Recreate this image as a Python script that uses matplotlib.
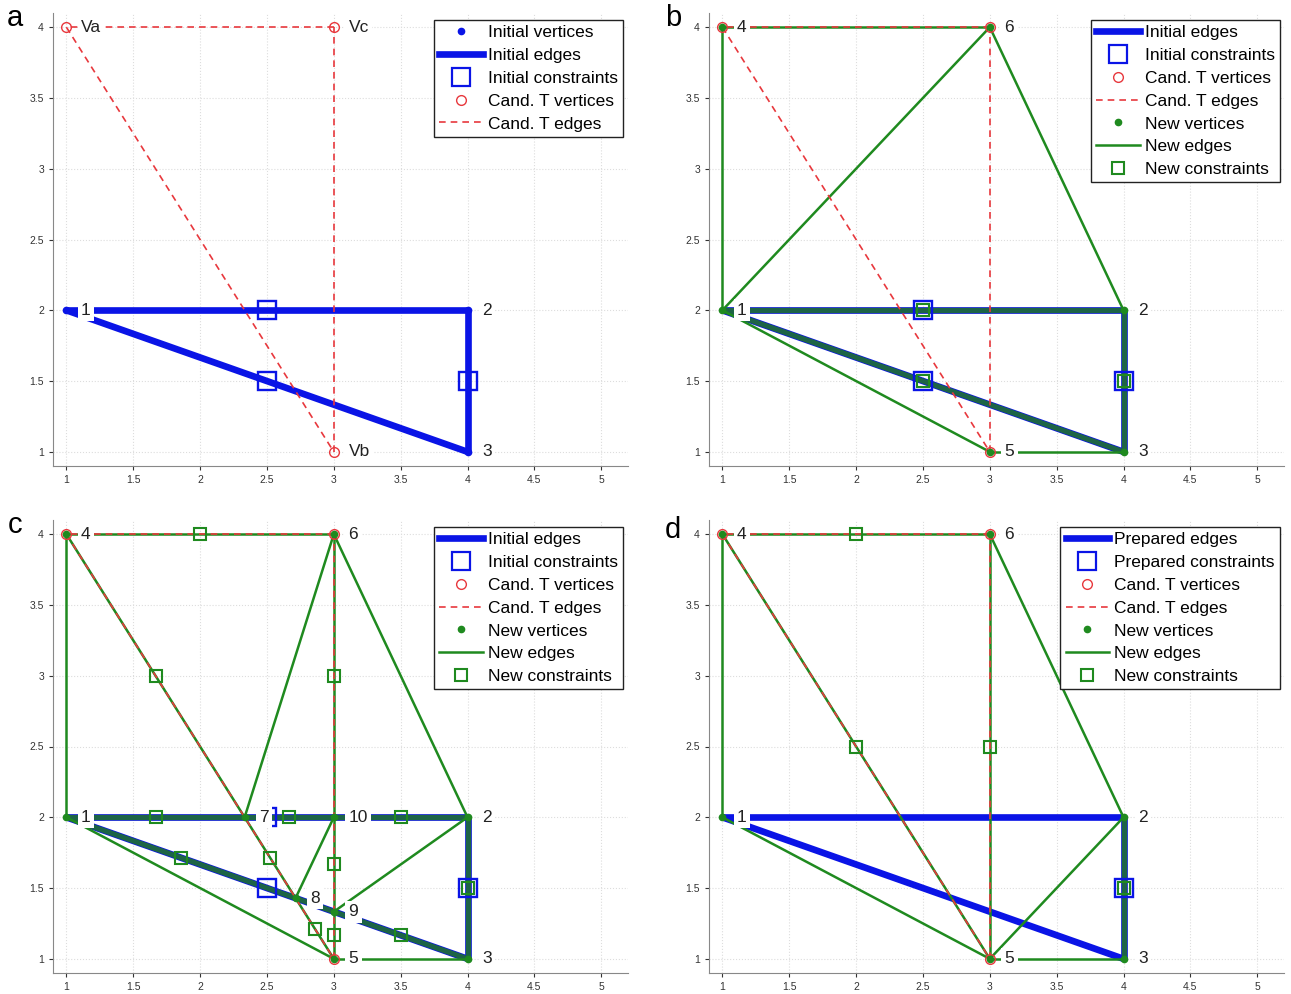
import matplotlib

matplotlib.use("Agg")
import matplotlib.pyplot as plt
from matplotlib.lines import Line2D

plt.rcParams["font.family"] = ["Liberation Sans", "DejaVu Sans"]

# ---- data -------------------------------------------------------------
# initial triangle (vertices 1, 2, 3)
init_vx = [1, 4, 4]
init_vy = [2, 2, 1]
init_edges = [(0, 1), (1, 2), (2, 0)]
init_cx = [2.5, 2.5, 4]
init_cy = [2, 1.5, 1.5]

# candidate triangle T (Va, Vb, Vc)
cand_vx = [1, 3, 3]
cand_vy = [4, 1, 4]
cand_names = ["Va", "Vb", "Vc"]
cand_edges = [(0, 1), (1, 2), (2, 0)]

# panel b
b_vx = [1, 4, 4, 1, 3, 3]
b_vy = [2, 2, 1, 4, 1, 4]
b_edges = [(0, 3), (3, 5), (5, 0), (5, 1), (0, 1), (1, 2), (2, 0), (0, 4), (4, 2)]
b_cx = [2.5, 2.5, 4]
b_cy = [2, 1.5, 1.5]

# panel c
c_vx = [1, 4, 4, 1, 3, 3, 2.333, 2.714, 3, 3]
c_vy = [2, 2, 1, 4, 1, 4, 2, 1.429, 1.333, 2]
c_edges = [(0, 6), (6, 9), (9, 1), (1, 2), (0, 7), (7, 8), (8, 2),
           (3, 0), (3, 5), (3, 6), (6, 7), (7, 4), (5, 9), (9, 8), (8, 4),
           (5, 6), (5, 1), (0, 4), (4, 2), (1, 8), (7, 9)]
c_cx = [2, 1.667, 3, 1.667, 2.667, 3.5, 1.857, 2.524, 2.857, 3, 3, 3.5, 4]
c_cy = [4, 3, 3, 2, 2, 2, 1.714, 1.714, 1.214, 1.667, 1.167, 1.167, 1.5]

# panel d
d_vx = [1, 4, 4, 1, 3, 3]
d_vy = [2, 2, 1, 4, 1, 4]
d_edges = [(3, 0), (3, 5), (3, 4), (5, 4), (5, 1), (0, 4), (4, 2), (4, 1), (1, 2)]
d_cx = [2, 2, 3, 4]
d_cy = [4, 2.5, 2.5, 1.5]
prep_cx = [4]
prep_cy = [1.5]

BLUE = "#0a14e6"
GREEN = "#1f8a1f"
TEAL = "#1d6446"
RED = "#e8383d"

W, H = 1291, 994
fig = plt.figure(figsize=(W / 100, H / 100), dpi=100)


def make_ax(left_px, top_px):
    ax = fig.add_axes([left_px / W, 1 - (top_px + 453) / H, 575 / W, 453 / H])
    ax.set_xlim(0.9, 5.2)
    ax.set_ylim(0.9, 4.1)
    ax.set_xticks([1, 1.5, 2, 2.5, 3, 3.5, 4, 4.5, 5])
    ax.set_yticks([1, 1.5, 2, 2.5, 3, 3.5, 4])
    ax.set_xticklabels(["1", "1.5", "2", "2.5", "3", "3.5", "4", "4.5", "5"])
    ax.set_yticklabels(["1", "1.5", "2", "2.5", "3", "3.5", "4"])
    ax.tick_params(labelsize=7.5, colors="#333333", length=3, width=0.8)
    ax.grid(True, color="#dddddd", linestyle=":", linewidth=0.8)
    ax.set_axisbelow(True)
    for s in ["top", "right"]:
        ax.spines[s].set_visible(False)
    for s in ["left", "bottom"]:
        ax.spines[s].set_color("#888888")
    return ax


def on_segment(p, q, a, b, tol=0.01):
    # both p and q lie on segment a-b
    def inside(r):
        cross = (b[0] - a[0]) * (r[1] - a[1]) - (b[1] - a[1]) * (r[0] - a[0])
        if abs(cross) > tol * 3:
            return False
        return (min(a[0], b[0]) - tol <= r[0] <= max(a[0], b[0]) + tol and
                min(a[1], b[1]) - tol <= r[1] <= max(a[1], b[1]) + tol)
    return inside(p) and inside(q)


def draw_blue_edges(ax):
    for i, j in init_edges:
        ax.plot([init_vx[i], init_vx[j]], [init_vy[i], init_vy[j]],
                color=BLUE, lw=4.8, solid_capstyle="butt", zorder=2)


def draw_cand(ax):
    for i, j in cand_edges:
        ax.plot([cand_vx[i], cand_vx[j]], [cand_vy[i], cand_vy[j]],
                color=RED, lw=1.2, ls=(0, (4, 3)), zorder=4)
    ax.plot(cand_vx, cand_vy, "o", ms=7, mfc="none", mec=RED, mew=1.0, zorder=5)


def draw_new(ax, vx, vy, edges, cx, cy):
    for i, j in edges:
        p, q = (vx[i], vy[i]), (vx[j], vy[j])
        shared = any(on_segment(p, q, (init_vx[a], init_vy[a]), (init_vx[b], init_vy[b]))
                     for a, b in init_edges)
        if shared:
            ax.plot([p[0], q[0]], [p[1], q[1]], color=TEAL, lw=3.8,
                    solid_capstyle="butt", zorder=3)
        else:
            ax.plot([p[0], q[0]], [p[1], q[1]], color=GREEN, lw=1.8, zorder=3)
    ax.plot(cx, cy, "s", ms=8, mfc="none", mec=GREEN, mew=1.5, zorder=7)
    ax.plot(vx, vy, ".", ms=9, color=GREEN, zorder=8)


def blue_squares(ax, cx, cy):
    ax.plot(cx, cy, "s", ms=13.5, mfc="none", mec=BLUE, mew=1.7, zorder=6)


def labels(ax, vx, vy, names):
    for x, y, s in zip(vx, vy, names):
        ax.text(x + 0.11, y, s, fontsize=12.5, ha="left", va="center", color="#222222",
                zorder=9, bbox=dict(fc="white", ec="none", pad=2.5))


H_INIT_V = Line2D([], [], ls="none", marker=".", ms=9, color=BLUE)
H_INIT_E = Line2D([], [], color=BLUE, lw=4.8)
H_INIT_C = Line2D([], [], ls="none", marker="s", ms=13, mfc="none", mec=BLUE, mew=1.6)
H_CAND_V = Line2D([], [], ls="none", marker="o", ms=7, mfc="none", mec=RED, mew=1.0)
H_CAND_E = Line2D([], [], color=RED, lw=1.2, ls=(0, (4, 3)))
H_NEW_V = Line2D([], [], ls="none", marker=".", ms=9, color=GREEN)
H_NEW_E = Line2D([], [], color=GREEN, lw=1.8)
H_NEW_C = Line2D([], [], ls="none", marker="s", ms=8, mfc="none", mec=GREEN, mew=1.5)


def legend(ax, handles, names, right_px, top_px):
    leg = ax.legend(handles, names, loc="upper right",
                    bbox_to_anchor=(right_px / W, 1 - top_px / H),
                    bbox_transform=fig.transFigure, fontsize=12.5,
                    frameon=True, fancybox=False, framealpha=1, edgecolor="#222222",
                    handlelength=2.5, handletextpad=0.3, labelspacing=0.44,
                    borderpad=0.3, borderaxespad=0)
    leg.get_frame().set_linewidth(1.0)
    leg.set_zorder(20)


# ---- panel a ----
ax = make_ax(53, 13)
draw_blue_edges(ax)
draw_cand(ax)
blue_squares(ax, init_cx, init_cy)
ax.plot(init_vx, init_vy, ".", ms=9, color=BLUE, zorder=8)
labels(ax, init_vx, init_vy, ["1", "2", "3"])
labels(ax, cand_vx, cand_vy, cand_names)
legend(ax, [H_INIT_V, H_INIT_E, H_INIT_C, H_CAND_V, H_CAND_E],
       ["Initial vertices", "Initial edges", "Initial constraints",
        "Cand. T vertices", "Cand. T edges"], 623, 20)
fig.text(15 / W, 1 - 18 / H, "a", fontsize=21, va="center", ha="center")

full_names = ["Initial edges", "Initial constraints", "Cand. T vertices",
              "Cand. T edges", "New vertices", "New edges", "New constraints"]
full_handles = [H_INIT_E, H_INIT_C, H_CAND_V, H_CAND_E, H_NEW_V, H_NEW_E, H_NEW_C]

# ---- panel b ----
ax = make_ax(709, 13)
draw_blue_edges(ax)
draw_cand(ax)
blue_squares(ax, init_cx, init_cy)
draw_new(ax, b_vx, b_vy, b_edges, b_cx, b_cy)
labels(ax, b_vx, b_vy, [str(k + 1) for k in range(len(b_vx))])
legend(ax, full_handles, full_names, 1280, 20)
fig.text(673 / W, 1 - 18 / H, "b", fontsize=21, va="center", ha="center")

# ---- panel c ----
ax = make_ax(53, 520)
draw_blue_edges(ax)
draw_cand(ax)
blue_squares(ax, init_cx, init_cy)
draw_new(ax, c_vx, c_vy, c_edges, c_cx, c_cy)
labels(ax, c_vx, c_vy, [str(k + 1) for k in range(len(c_vx))])
legend(ax, full_handles, full_names, 623, 527)
fig.text(15 / W, 1 - 525 / H, "c", fontsize=21, va="center", ha="center")

# ---- panel d ----
ax = make_ax(709, 520)
draw_blue_edges(ax)
draw_cand(ax)
blue_squares(ax, prep_cx, prep_cy)
draw_new(ax, d_vx, d_vy, d_edges, d_cx, d_cy)
labels(ax, d_vx, d_vy, [str(k + 1) for k in range(len(d_vx))])
legend(ax, full_handles, ["Prepared edges", "Prepared constraints"] + full_names[2:],
       1280, 527)
fig.text(673 / W, 1 - 530 / H, "d", fontsize=21, va="center", ha="center")

fig.savefig("out.png", dpi=100)
